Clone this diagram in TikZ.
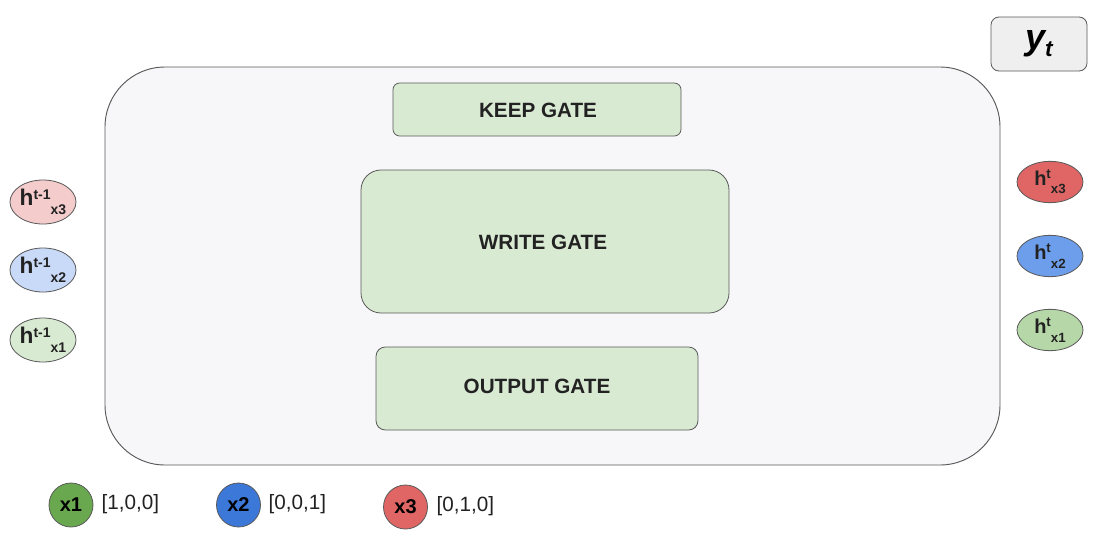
\documentclass[tikz,border=0pt]{standalone}
\usepackage{fontspec}
\setmainfont{Liberation Sans}
\usetikzlibrary{shapes.geometric}
\definecolor{frameline}{HTML}{595959}
\definecolor{cellfill}{HTML}{F7F7F9}
\definecolor{gatefill}{HTML}{D9EAD3}
\definecolor{ytfill}{HTML}{EFEFEF}
\definecolor{lpink}{HTML}{F4CCCC}
\definecolor{lblue}{HTML}{C9DAF8}
\definecolor{lgreen}{HTML}{D9EAD3}
\definecolor{mred}{HTML}{E06666}
\definecolor{mblue}{HTML}{6D9EEB}
\definecolor{mgreen}{HTML}{B6D7A8}
\definecolor{dgreen}{HTML}{6AA84F}
\definecolor{dblue}{HTML}{3C78D8}
\definecolor{dred}{HTML}{E06666}
\definecolor{txt}{HTML}{222222}
\newcommand{\hlab}[4]{\fontsize{#3}{#3}\selectfont\textbf{h}\raisebox{5pt}{\fontsize{#4}{#4}\selectfont\textbf{#1}}\raisebox{-6.5pt}{\fontsize{#4}{#4}\selectfont\textbf{#2}}}
\begin{document}
\begin{tikzpicture}[x=0.75pt,y=-0.75pt,
  gatelabel/.style={text=txt, font=\fontsize{15.5}{15.5}\selectfont\bfseries},
  lell/.style={ellipse, draw=frameline, line width=0.6pt, minimum width=49.5pt, minimum height=33pt, inner sep=0pt, text=txt},
  rell/.style={ellipse, draw=frameline, line width=0.6pt, minimum width=49.5pt, minimum height=31pt, inner sep=0pt, text=txt},
  xcirc/.style={circle, draw=frameline, line width=0.6pt, minimum size=33pt, inner sep=0pt, text=black, font=\fontsize{15}{15}\selectfont\bfseries},
  vec/.style={anchor=west, text=txt, font=\fontsize{15.5}{15.5}\selectfont}]
\useasboundingbox (0,0) rectangle (1100,550);
\fill[white] (0,0) rectangle (1100,550);
% main cell
\draw[draw=frameline, line width=0.7pt, fill=cellfill, rounded corners=45pt] (105,67) rectangle (1000,465);
% gates
\draw[draw=frameline, line width=0.6pt, fill=gatefill, rounded corners=5pt] (393,83) rectangle (681,136);
\node[gatelabel] (keep) at (538,110) {KEEP GATE};
\draw[draw=frameline, line width=0.6pt, fill=gatefill, rounded corners=15pt] (361,170) rectangle (729,313);
\node[gatelabel] (write) at (543,242) {WRITE GATE};
\draw[draw=frameline, line width=0.6pt, fill=gatefill, rounded corners=7pt] (376,347) rectangle (698,430);
\node[gatelabel] (output) at (537,386) {OUTPUT GATE};
% y_t
\draw[draw=frameline, line width=0.6pt, fill=ytfill, rounded corners=6pt] (991,17) rectangle (1087,71);
\node[text=black] (yt) at (1039,44) {\fontsize{27}{27}\selectfont\bfseries\itshape y\raisebox{-0.2em}{\fontsize{17}{17}\selectfont t}};
% left ellipses
\node[lell, fill=lpink] (hl3) at (43,202) {\hlab{t-1}{x3}{17}{10.5}};
\node[lell, fill=lblue] (hl2) at (43,270) {\hlab{t-1}{x2}{17}{10.5}};
\node[lell, fill=lgreen] (hl1) at (43,340) {\hlab{t-1}{x1}{17}{10.5}};
% right ellipses
\node[rell, fill=mred] (hr3) at (1050,182) {\hlab{t}{x3}{15}{10}};
\node[rell, fill=mblue] (hr2) at (1050,256) {\hlab{t}{x2}{15}{10}};
\node[rell, fill=mgreen] (hr1) at (1050,330) {\hlab{t}{x1}{15}{10}};
% legend
\node[xcirc, fill=dgreen] (x1) at (71,505) {x1};
\node[vec] (v1) at (97,504) {[1,0,0]};
\node[xcirc, fill=dblue] (x2) at (238.5,505) {x2};
\node[vec] (v2) at (264,504) {[0,0,1]};
\node[xcirc, fill=dred] (x3) at (405.5,507) {x3};
\node[vec] (v3) at (432,506) {[0,1,0]};
\end{tikzpicture}
\end{document}
